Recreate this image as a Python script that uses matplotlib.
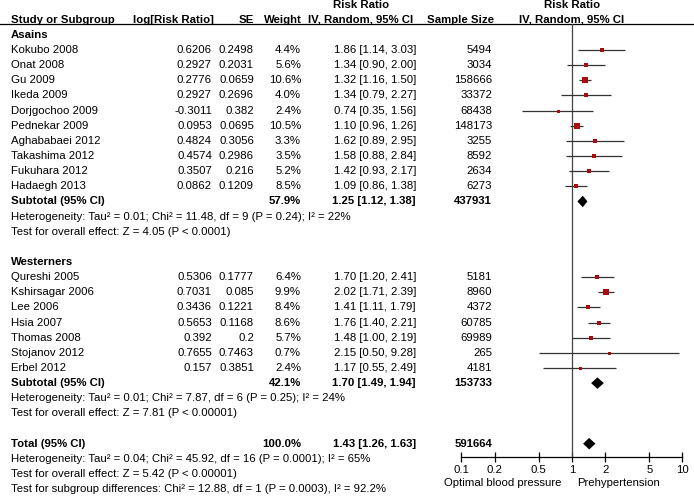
import numpy as np
import matplotlib.pyplot as plt
from matplotlib.ticker import FixedLocator, NullLocator, FixedFormatter

# ---- data ----
asian_names = ['Kokubo 2008', 'Onat 2008', 'Gu 2009', 'Ikeda 2009', 'Dorjgochoo 2009',
               'Pednekar 2009', 'Aghababaei 2012', 'Takashima 2012', 'Fukuhara 2012', 'Hadaegh 2013']
asian_logrr = ['0.6206', '0.2927', '0.2776', '0.2927', '-0.3011', '0.0953', '0.4824', '0.4574', '0.3507', '0.0862']
asian_se = ['0.2498', '0.2031', '0.0659', '0.2696', '0.382', '0.0695', '0.3056', '0.2986', '0.216', '0.1209']
asian_weight = [4.4, 5.6, 10.6, 4.0, 2.4, 10.5, 3.3, 3.5, 5.2, 8.5]
asian_rr = [1.86, 1.34, 1.32, 1.34, 0.74, 1.10, 1.62, 1.58, 1.42, 1.09]
asian_lo = [1.14, 0.90, 1.16, 0.79, 0.35, 0.96, 0.89, 0.88, 0.93, 0.86]
asian_hi = [3.03, 2.00, 1.50, 2.27, 1.56, 1.26, 2.95, 2.84, 2.17, 1.38]
asian_n = [5494, 3034, 158666, 33372, 68438, 148173, 3255, 8592, 2634, 6273]

west_names = ['Qureshi 2005', 'Kshirsagar 2006', 'Lee 2006', 'Hsia 2007', 'Thomas 2008',
              'Stojanov 2012', 'Erbel 2012']
west_logrr = ['0.5306', '0.7031', '0.3436', '0.5653', '0.392', '0.7655', '0.157']
west_se = ['0.1777', '0.085', '0.1221', '0.1168', '0.2', '0.7463', '0.3851']
west_weight = [6.4, 9.9, 8.4, 8.6, 5.7, 0.7, 2.4]
west_rr = [1.70, 2.02, 1.41, 1.76, 1.48, 2.15, 1.17]
west_lo = [1.20, 1.71, 1.11, 1.40, 1.00, 0.50, 0.55]
west_hi = [2.41, 2.39, 1.79, 2.21, 2.19, 9.28, 2.49]
west_n = [5181, 8960, 4372, 60785, 69989, 265, 4181]

# subtotal / total: weight, rr, lo, hi, n
asian_sub = (57.9, 1.25, 1.12, 1.38, 437931)
west_sub = (42.1, 1.70, 1.49, 1.94, 153733)
total = (100.0, 1.43, 1.26, 1.63, 591664)

asian_het = 'Heterogeneity: Tau² = 0.01; Chi² = 11.48, df = 9 (P = 0.24); I² = 22%'
asian_z = 'Test for overall effect: Z = 4.05 (P < 0.0001)'
west_het = 'Heterogeneity: Tau² = 0.01; Chi² = 7.87, df = 6 (P = 0.25); I² = 24%'
west_z = 'Test for overall effect: Z = 7.81 (P < 0.00001)'
total_het = 'Heterogeneity: Tau² = 0.04; Chi² = 45.92, df = 16 (P = 0.0001); I² = 65%'
total_z = 'Test for overall effect: Z = 5.42 (P < 0.00001)'
subgroup_test = 'Test for subgroup differences: Chi² = 12.88, df = 1 (P = 0.0003), I² = 92.2%'

ticks = [0.1, 0.2, 0.5, 1, 2, 5, 10]
tick_labels = ['0.1', '0.2', '0.5', '1', '2', '5', '10']

# ---- layout (pixels) ----
W, H = 694, 498
Y0, PITCH = 34.9, 15.14
X_NAME, X_LOG, X_SE, X_W, X_RR, X_N = 11, 212, 254, 301, 416, 492
X_ONE, DECADE = 572, 110.5
LINE_Y, AXIS_Y = 24, 457
FS = 8.2
SQ = '#A80C0C'

plt.rcParams['font.family'] = ['Liberation Sans', 'DejaVu Sans']

fig = plt.figure(figsize=(W / 100, H / 100), dpi=100)
ax = fig.add_axes([0, 0, 1, 1])
ax.set_xlim(0, W)
ax.set_ylim(H, 0)
ax.axis('off')


def rowY(i):
    return Y0 + i * PITCH


def txt(x, i, s, ha='left', bold=False):
    ax.text(x, rowY(i), s, ha=ha, va='center', fontsize=FS,
            fontweight='bold' if bold else 'normal')


# headers
txt(361, -2, 'Risk Ratio', ha='center', bold=True)
txt(X_ONE, -2, 'Risk Ratio', ha='center', bold=True)
txt(X_NAME, -1, 'Study or Subgroup', bold=True)
txt(214, -1, 'log[Risk Ratio]', ha='right', bold=True)
txt(254, -1, 'SE', ha='right', bold=True)
txt(302, -1, 'Weight', ha='right', bold=True)
txt(361, -1, 'IV, Random, 95% CI', ha='center', bold=True)
txt(494, -1, 'Sample Size', ha='right', bold=True)
txt(X_ONE, -1, 'IV, Random, 95% CI', ha='center', bold=True)
ax.plot([0, W], [LINE_Y, LINE_Y], color='black', lw=0.9)

# forest axes
ylo = (LINE_Y - Y0) / PITCH
yhi = (AXIS_Y - Y0) / PITCH
fa = fig.add_axes([(X_ONE - DECADE) / W, (H - AXIS_Y) / H, 2 * DECADE / W, (AXIS_Y - LINE_Y) / H])
fa.patch.set_visible(False)
fa.set_xscale('log')
fa.set_xlim(0.1, 10)
fa.set_ylim(yhi, ylo)
for s in ['top', 'left', 'right']:
    fa.spines[s].set_visible(False)
fa.spines['bottom'].set_linewidth(0.9)
fa.xaxis.set_major_locator(FixedLocator(ticks))
fa.xaxis.set_major_formatter(FixedFormatter(tick_labels))
fa.xaxis.set_minor_locator(NullLocator())
fa.tick_params(axis='x', direction='inout', length=7, width=0.9, labelsize=FS, pad=2)
fa.set_yticks([])
fa.axvline(1, color='#444444', lw=0.9)


def summary(i, label, vals):
    w, rr, lo, hi, n = vals
    txt(X_NAME, i, label, bold=True)
    txt(X_W, i, '%.1f%%' % w, ha='right', bold=True)
    txt(X_RR, i, '%.2f [%.2f, %.2f]' % (rr, lo, hi), ha='right', bold=True)
    txt(X_N, i, str(n), ha='right', bold=True)
    h = 0.38
    fa.fill([lo, rr, hi, rr], [i, i - h, i, i + h], color='black', lw=0, zorder=3)


def group(start, title, names, logrr, se, weight, rr, lo, hi, n, sub, het, z):
    txt(X_NAME, start, title, bold=True)
    for k in range(len(names)):
        i = start + 1 + k
        txt(X_NAME, i, names[k])
        txt(X_LOG, i, logrr[k], ha='right')
        txt(X_SE, i, se[k], ha='right')
        txt(X_W, i, '%.1f%%' % weight[k], ha='right')
        txt(X_RR, i, '%.2f [%.2f, %.2f]' % (rr[k], lo[k], hi[k]), ha='right')
        txt(X_N, i, str(n[k]), ha='right')
        fa.plot([lo[k], min(hi[k], 10)], [i, i], color='#333333', lw=0.9, solid_capstyle='butt')
        side = max(1.7 * np.sqrt(weight[k]), 3.0) * 0.72
        fa.plot(rr[k], i, marker='s', ms=side, color=SQ, mec=SQ, mew=0, zorder=3)
    i = start + 1 + len(names)
    summary(i, 'Subtotal (95% CI)', sub)
    txt(X_NAME, i + 1, het)
    txt(X_NAME, i + 2, z)


group(0, 'Asains', asian_names, asian_logrr, asian_se, asian_weight,
      asian_rr, asian_lo, asian_hi, asian_n, asian_sub, asian_het, asian_z)
group(15, 'Westerners', west_names, west_logrr, west_se, west_weight,
      west_rr, west_lo, west_hi, west_n, west_sub, west_het, west_z)
summary(27, 'Total (95% CI)', total)
txt(X_NAME, 28, total_het)
txt(X_NAME, 29, total_z)
txt(X_NAME, 30, subgroup_test)

ax.text(562, 483, 'Optimal blood pressure', ha='right', va='center', fontsize=FS)
ax.text(577, 483, 'Prehypertension', ha='left', va='center', fontsize=FS)

fig.savefig('out.png', dpi=100)
